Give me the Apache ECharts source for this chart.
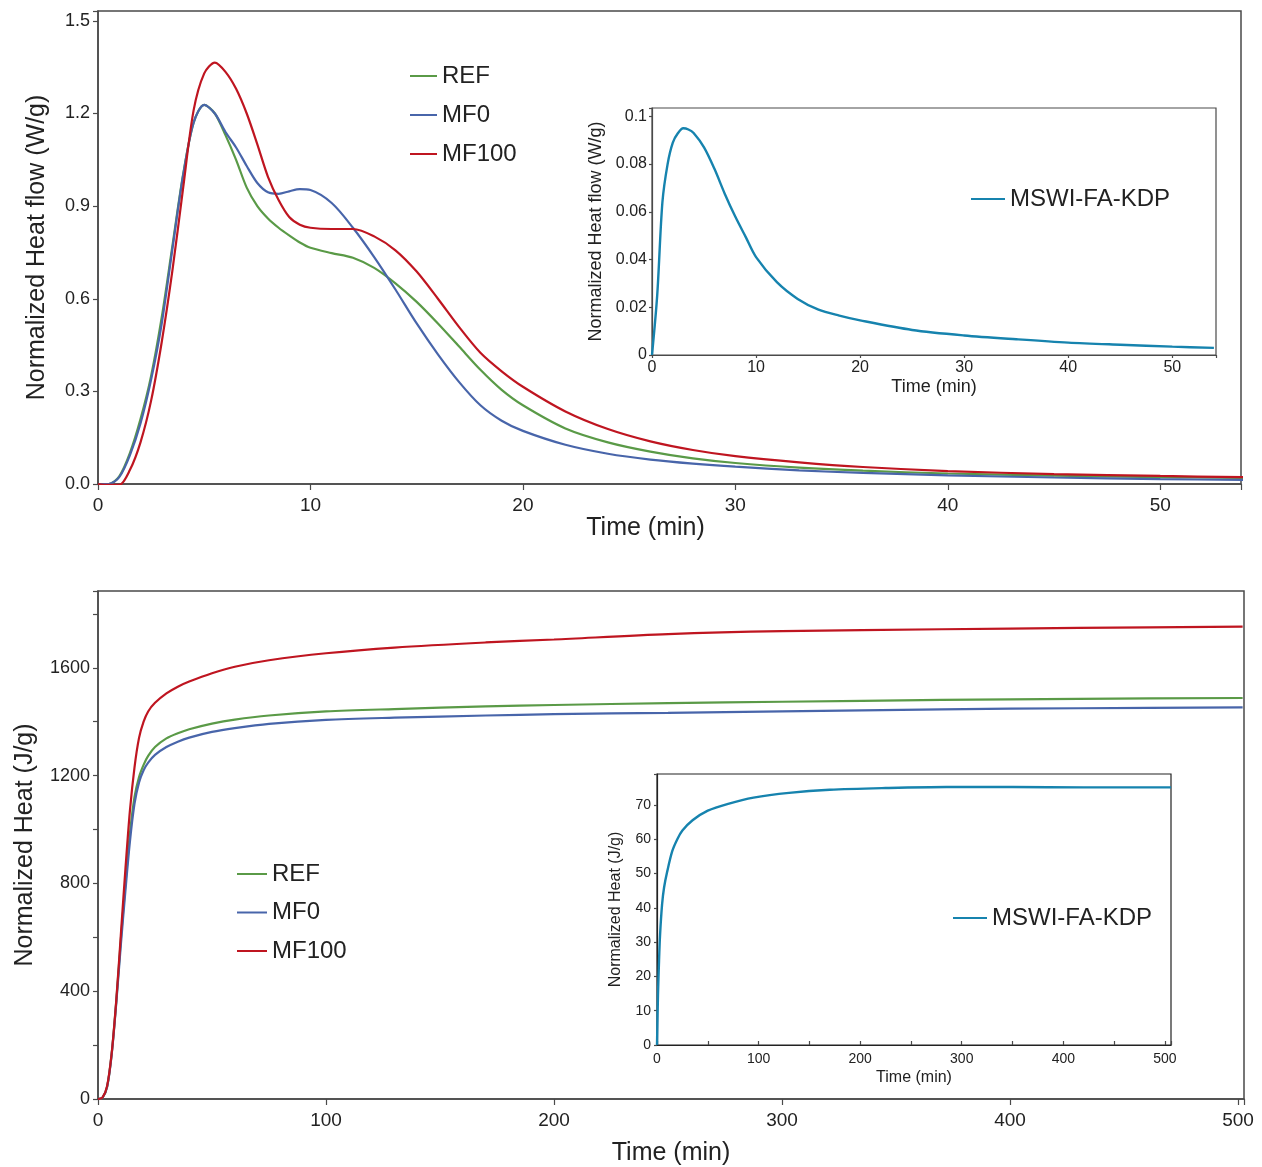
<!DOCTYPE html>
<html>
<head>
<meta charset="utf-8">
<script src="https://cdn.jsdelivr.net/npm/echarts@6.0.0/dist/echarts.min.js"></script>
<style>
html,body{margin:0;padding:0;background:#fff;}
#chart{width:1262px;height:1167px;}
</style>
</head>
<body>
<div id="chart"></div>
<script>
// ---------- Heat flow (top) ----------
var flowTime = [0, 0.5, 1, 1.5, 2, 2.5, 3, 3.5, 4, 4.5, 5, 5.5, 6, 6.5, 7, 7.5, 8, 8.5, 9, 9.5, 10, 11, 12, 13, 14, 15, 16, 17, 18, 19, 20, 22, 24, 26, 28, 30, 33, 36, 40, 45, 50, 54];
var flowREF   = [0, 0, 0.025, 0.10, 0.21, 0.35, 0.54, 0.77, 1.0, 1.17, 1.228, 1.2, 1.13, 1.05, 0.96, 0.9, 0.86, 0.83, 0.805, 0.782, 0.765, 0.748, 0.733, 0.7, 0.65, 0.59, 0.52, 0.445, 0.37, 0.305, 0.255, 0.18, 0.135, 0.105, 0.083, 0.068, 0.053, 0.043, 0.034, 0.027, 0.022, 0.02];
var flowMF0   = [0, 0, 0.022, 0.093, 0.196, 0.338, 0.52, 0.76, 0.997, 1.17, 1.228, 1.2, 1.14, 1.09, 1.03, 0.975, 0.945, 0.94, 0.948, 0.955, 0.952, 0.91, 0.83, 0.735, 0.63, 0.52, 0.42, 0.33, 0.255, 0.205, 0.172, 0.127, 0.098, 0.079, 0.066, 0.056, 0.044, 0.036, 0.028, 0.021, 0.016, 0.013];
var flowMF100 = [0, -0.003, -0.003, 0.045, 0.135, 0.27, 0.46, 0.69, 0.955, 1.21, 1.33, 1.365, 1.335, 1.28, 1.2, 1.1, 0.995, 0.92, 0.865, 0.84, 0.83, 0.826, 0.826, 0.802, 0.757, 0.688, 0.6, 0.508, 0.425, 0.365, 0.315, 0.235, 0.178, 0.138, 0.11, 0.09, 0.07, 0.055, 0.042, 0.032, 0.026, 0.022];

var kdpFlowTime = [0, 0.5, 1, 1.5, 2, 2.5, 3, 3.5, 4, 5, 6, 7, 8, 9, 10, 12, 14, 16, 18, 20, 25, 30, 35, 40, 45, 50, 54];
var kdpFlow     = [0, 0.025, 0.064, 0.08, 0.089, 0.093, 0.095, 0.0945, 0.093, 0.087, 0.078, 0.0675, 0.058, 0.0495, 0.041, 0.0305, 0.0235, 0.019, 0.0165, 0.0145, 0.0105, 0.0082, 0.0066, 0.0052, 0.0043, 0.0035, 0.003];

// ---------- Cumulative heat (bottom) ----------
var heatTime  = [0, 2, 4, 6, 8, 10, 12, 14, 16, 18, 20, 22, 25, 30, 35, 40, 50, 60, 75, 100, 130, 170, 200, 250, 300, 370, 430, 502];
var heatREF   = [0, 5, 45, 168, 360, 590, 795, 985, 1120, 1195, 1240, 1273, 1306, 1338, 1357, 1372, 1393, 1408, 1423, 1438, 1447, 1457, 1462, 1469, 1474, 1481, 1485, 1488];
var heatMF0   = [0, 5, 45, 165, 355, 570, 770, 955, 1095, 1175, 1220, 1248, 1277, 1306, 1326, 1341, 1362, 1376, 1392, 1407, 1415, 1423, 1428, 1433, 1438, 1446, 1450, 1453];
var heatMF100 = [0, 6, 48, 170, 365, 607, 850, 1070, 1230, 1340, 1400, 1438, 1470, 1505, 1530, 1549, 1580, 1604, 1628, 1654, 1675, 1694, 1705, 1725, 1736, 1743, 1748, 1753];

var kdpHeatTime = [0, 1, 2, 3, 5, 7, 10, 15, 20, 25, 35, 50, 70, 95, 130, 170, 225, 285, 350, 420, 506];
var kdpHeat     = [0, 15, 24.5, 32, 41, 46, 50.5, 56.5, 60, 62.5, 65.5, 68.3, 70.3, 72.1, 73.5, 74.4, 74.9, 75.2, 75.2, 75.1, 75.1];

var seriesNames = ['REF', 'MF0', 'MF100'];
var kdpName = 'MSWI-FA-KDP';

function zip(xs, ys) { return xs.map(function (x, i) { return [x, ys[i]]; }); }

var C_GREEN = '#5a9a47', C_BLUE = '#4865aa', C_RED = '#bf1520', C_CYAN = '#1683ae';
var AX = '#4a4a4a', TXT = '#222';
var FONT = '"Liberation Sans", Arial, sans-serif';

function lineSeries(name, data, color, xi, yi, w) {
  return {
    type: 'line', name: name, data: data, xAxisIndex: xi, yAxisIndex: yi,
    showSymbol: false, symbol: 'none', smooth: 0.3,
    lineStyle: { color: color, width: w || 2.2 }, itemStyle: { color: color },
    silent: true, z: 3
  };
}

function axisCommon(o) {
  var base = {
    axisLine: { show: true, onZero: false, lineStyle: { color: AX, width: 1.5 } },
    axisTick: { show: true, inside: false, length: 5, lineStyle: { color: AX, width: 1.2 } },
    splitLine: { show: false },
    nameLocation: 'middle',
    nameTextStyle: { fontFamily: FONT, color: TXT, fontSize: 25 },
    axisLabel: { fontFamily: FONT, color: TXT, fontSize: 18, margin: 8 }
  };
  for (var k in o) {
    if (typeof o[k] === 'object' && !Array.isArray(o[k]) && base[k] && typeof base[k] === 'object') {
      var m = {}; for (var a in base[k]) m[a] = base[k][a]; for (var b in o[k]) m[b] = o[k][b]; base[k] = m;
    } else base[k] = o[k];
  }
  return base;
}

function fmtEvery(step, dec) {
  return function (v) {
    var r = Math.round(v / step);
    if (Math.abs(v - r * step) > step * 1e-6) return '';
    return dec == null ? String(Math.round(v)) : v.toFixed(dec);
  };
}

var chart = echarts.init(document.getElementById('chart'), null, { renderer: 'canvas' });

var option = {
  animation: false,
  backgroundColor: '#fff',
  grid: [
    { left: 98, top: 11, width: 1143, height: 473, show: true, borderColor: AX, borderWidth: 1.5, backgroundColor: 'transparent' },
    { left: 652, top: 108, width: 564, height: 247, show: true, borderColor: AX, borderWidth: 1.2, backgroundColor: '#fff', z: 5 },
    { left: 98, top: 591, width: 1146, height: 509, show: true, borderColor: AX, borderWidth: 1.5, backgroundColor: 'transparent' },
    { left: 657, top: 774, width: 514, height: 271, show: true, borderColor: '#222', borderWidth: 1.2, backgroundColor: '#fff', z: 5 }
  ],
  xAxis: [
    axisCommon({ type: 'value', gridIndex: 0, min: 0, max: 53.8, interval: 10, name: 'Time (min)', nameGap: 28,
      nameTextStyle: { padding: [0, 48, 0, 0] },
      axisLabel: { fontSize: 19, margin: 12, formatter: fmtEvery(10) }, axisTick: { length: 6 } }),
    axisCommon({ type: 'value', gridIndex: 1, min: 0, max: 54.2, interval: 10, name: 'Time (min)', nameGap: 23,
      nameTextStyle: { fontSize: 18 }, axisLabel: { fontSize: 16, margin: 5, formatter: fmtEvery(10) },
      axisLine: { lineStyle: { color: AX, width: 1.2 } }, axisTick: { length: 3 }, z: 6 }),
    axisCommon({ type: 'value', gridIndex: 2, min: 0, max: 502.6, interval: 100, name: 'Time (min)', nameGap: 42,
      axisLabel: { fontSize: 19, margin: 12, formatter: fmtEvery(100) }, axisTick: { length: 6 } }),
    axisCommon({ type: 'value', gridIndex: 3, min: 0, max: 506, interval: 50, name: 'Time (min)', nameGap: 25,
      nameTextStyle: { fontSize: 16 }, axisLabel: { fontSize: 14, margin: 7, formatter: fmtEvery(100) },
      axisLine: { lineStyle: { color: '#222', width: 1.2 } }, axisTick: { inside: true, length: 4 }, z: 6 })
  ],
  yAxis: [
    axisCommon({ type: 'value', gridIndex: 0, min: 0, max: 1.532, interval: 0.3, name: 'Normalized Heat flow (W/g)', nameGap: 48,
      axisLabel: { fontSize: 18, margin: 8, formatter: fmtEvery(0.3, 1) } }),
    axisCommon({ type: 'value', gridIndex: 1, min: 0, max: 0.1035, interval: 0.02, name: 'Normalized Heat flow (W/g)', nameGap: 47,
      nameTextStyle: { fontSize: 18 }, axisLabel: { fontSize: 16, margin: 5,
        formatter: function (v) { var r = Math.round(v / 0.02); if (Math.abs(v - r * 0.02) > 1e-9) return ''; if (r === 0) return '0'; if (r === 5) return '0.1'; return (r * 0.02).toFixed(2); } },
      axisLine: { lineStyle: { color: AX, width: 1.2 } }, axisTick: { length: 3 }, z: 6 }),
    axisCommon({ type: 'value', gridIndex: 2, min: 0, max: 1885, interval: 200, name: 'Normalized Heat (J/g)', nameGap: 60,
      axisLabel: { fontSize: 18, margin: 8, formatter: fmtEvery(400) } }),
    axisCommon({ type: 'value', gridIndex: 3, min: 0, max: 79, interval: 10, name: 'Normalized Heat (J/g)', nameGap: 33,
      nameTextStyle: { fontSize: 16 }, axisLabel: { fontSize: 14, margin: 6, formatter: fmtEvery(10) },
      axisLine: { lineStyle: { color: '#222', width: 1.2 } }, axisTick: { length: 3 }, z: 6 })
  ],
  legend: [
    { left: 405, top: 59, orient: 'vertical', icon: 'rect', itemWidth: 27, itemHeight: 2, itemGap: 15, selectedMode: false,
      textStyle: { fontFamily: FONT, fontSize: 24, lineHeight: 24, color: TXT }, data: seriesNames },
    { left: 966, top: 182, orient: 'vertical', icon: 'rect', itemWidth: 34, itemHeight: 2, selectedMode: false, z: 10,
      textStyle: { fontFamily: FONT, fontSize: 24, lineHeight: 24, color: TXT }, data: [kdpName] },
    { left: 232, top: 857, orient: 'vertical', icon: 'rect', itemWidth: 30, itemHeight: 2, itemGap: 14.5, selectedMode: false,
      textStyle: { fontFamily: FONT, fontSize: 24, lineHeight: 24, color: TXT }, data: seriesNames },
    { left: 948, top: 901, orient: 'vertical', icon: 'rect', itemWidth: 34, itemHeight: 2, selectedMode: false, z: 10,
      textStyle: { fontFamily: FONT, fontSize: 24, lineHeight: 24, color: TXT }, data: [kdpName] }
  ],
  series: [
    lineSeries('REF', zip(flowTime, flowREF), C_GREEN, 0, 0),
    lineSeries('MF0', zip(flowTime, flowMF0), C_BLUE, 0, 0),
    lineSeries('MF100', zip(flowTime, flowMF100), C_RED, 0, 0),
    lineSeries(kdpName, zip(kdpFlowTime, kdpFlow), C_CYAN, 1, 1, 2.4),
    lineSeries('REF', zip(heatTime, heatREF), C_GREEN, 2, 2),
    lineSeries('MF0', zip(heatTime, heatMF0), C_BLUE, 2, 2),
    lineSeries('MF100', zip(heatTime, heatMF100), C_RED, 2, 2),
    lineSeries(kdpName, zip(kdpHeatTime, kdpHeat), C_CYAN, 3, 3, 2.4)
  ]
};
option.series[3].z = 7;
option.series[7].z = 7;
chart.setOption(option);
</script>
</body>
</html>
